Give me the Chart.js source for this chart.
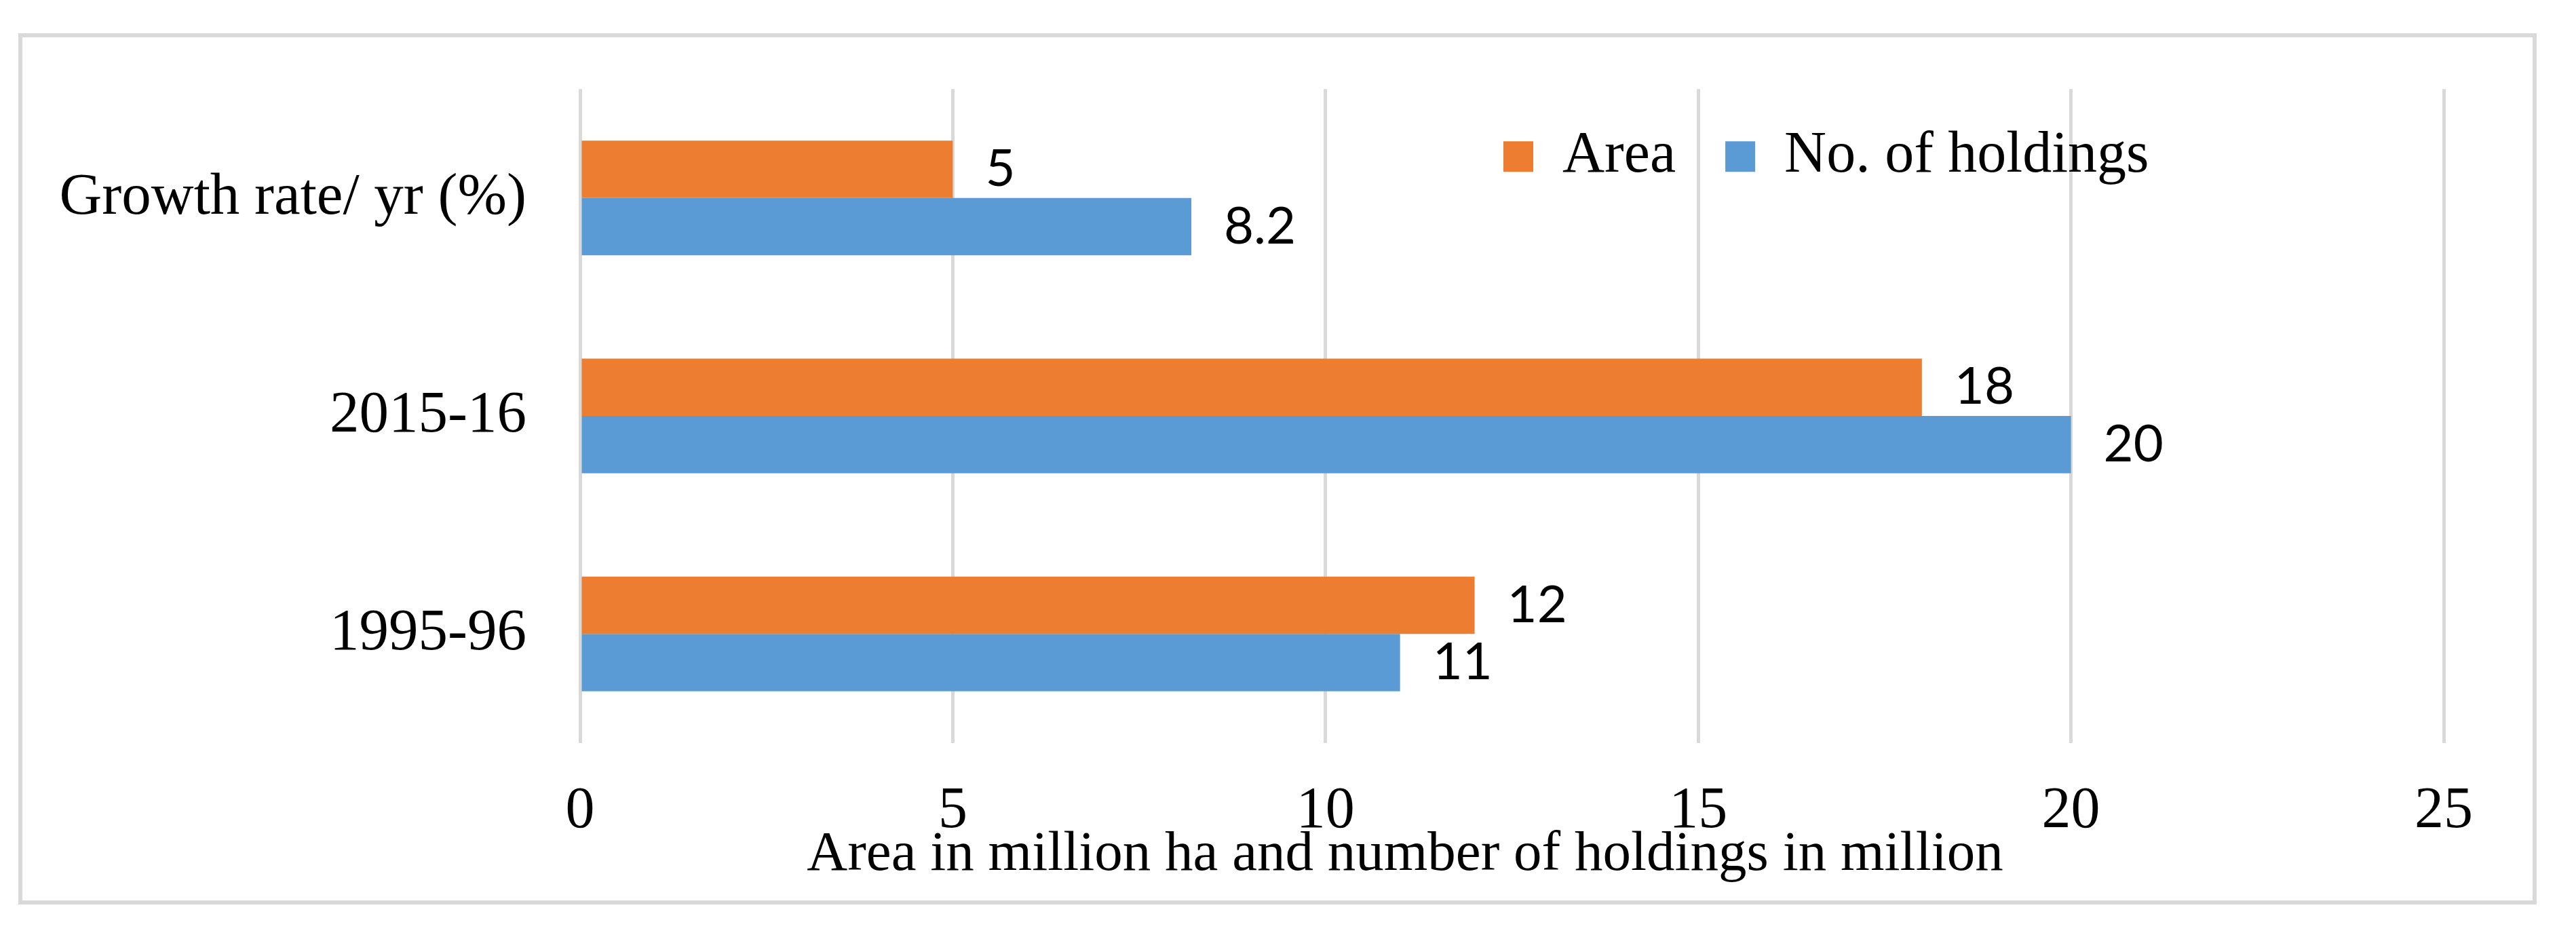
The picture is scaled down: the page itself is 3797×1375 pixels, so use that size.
<!DOCTYPE html>
<html>
<head>
<meta charset="utf-8">
<script src="https://cdn.jsdelivr.net/npm/chart.js@4.4.1/dist/chart.umd.min.js"></script>
<style>
  html, body { margin: 0; padding: 0; background: #ffffff; width: 3797px; height: 1375px; overflow: hidden; }
  #frame { position: absolute; left: 27px; top: 49px; width: 3712px; height: 1284px; box-sizing: border-box; border: 6px solid #d9d9d9; }
  #c { position: absolute; left: 0; top: 0; }
</style>
</head>
<body>
<div id="frame"></div>
<canvas id="c" width="3797" height="1375"></canvas>
<script>
// ---- data ----
const categories = ['Growth rate/ yr (%)', '2015-16', '1995-96'];
const seriesNames = ['Area', 'No. of holdings'];
const areaValues = [5, 18, 12];
const holdingsValues = [8.2, 20, 11];
const axisMin = 0;
const axisMax = 25;
const axisStep = 5;
const axisTitle = 'Area in million ha and number of holdings in million';

// ---- styles ----
const ORANGE = '#ED7D31';
const BLUE = '#5B9BD5';
const GRID = '#d9d9d9';
const SERIF = "'Liberation Serif', 'Times New Roman', serif";

Chart.defaults.color = '#000';
Chart.defaults.font.family = SERIF;

const valueLabels = {
  id: 'valueLabels',
  afterDatasetsDraw(chart) {
    const ctx = chart.ctx;
    ctx.save();
    ctx.font = "76px Lato, 'Open Sans', sans-serif";
    ctx.fillStyle = '#000';
    ctx.textAlign = 'left';
    ctx.textBaseline = 'middle';
    chart.data.datasets.forEach((ds, i) => {
      const meta = chart.getDatasetMeta(i);
      meta.data.forEach((bar, j) => {
        ctx.fillText(String(ds.data[j]), bar.x + 48, bar.y);
      });
    });
    ctx.restore();
  }
};

// place legend inside the plot area and the axis title under the axis (offset left as in the original)
const boxPlace = {
  id: 'boxPlace',
  afterLayout(chart) {
    const ca = chart.chartArea;
    const lg = chart.legend;
    if (lg) {
      const pad = lg.options.labels.padding;
      lg.left = ca.left + 1361 - pad;
      lg.width = 1600;
      lg.right = lg.left + lg.width;
      lg.top = ca.top + 56.5 - pad;
      lg.height = 250;
      lg.bottom = lg.top + lg.height;
    }
    const tb = chart.titleBlock;
    if (tb) {
      const cx = ca.left + 1216;
      tb.left = cx - 1000;
      tb.right = cx + 1000;
      tb.width = 2000;
      const h = tb.height;
      tb.top = ca.bottom + 100.2;
      tb.bottom = tb.top + h;
    }
  }
};

new Chart(document.getElementById('c'), {
  type: 'bar',
  data: {
    labels: categories,
    datasets: [
      { label: seriesNames[0], data: areaValues, backgroundColor: ORANGE, borderWidth: 0,
        categoryPercentage: 0.526, barPercentage: 1.0 },
      { label: seriesNames[1], data: holdingsValues, backgroundColor: BLUE, borderWidth: 0,
        categoryPercentage: 0.526, barPercentage: 1.0 }
    ]
  },
  options: {
    indexAxis: 'y',
    responsive: false,
    animation: false,
    devicePixelRatio: 1,
    layout: { padding: { left: 60, right: 195, top: 109, bottom: 5.4 } },
    scales: {
      y: {
        type: 'category',
        grid: { display: false, drawTicks: false },
        border: { display: false },
        ticks: { font: { family: SERIF, size: 87 }, color: '#000', padding: 79 },
        afterFit: (s) => { s.width = 795; }
      },
      x: {
        type: 'linear',
        min: axisMin,
        max: axisMax,
        grid: { color: GRID, lineWidth: 5, drawTicks: false },
        border: { display: false },
        ticks: { stepSize: axisStep, font: { family: SERIF, size: 86 }, color: '#000', padding: 50 },
        afterFit: (s) => { s.height = 160; }
      }
    },
    plugins: {
      legend: {
        display: true,
        position: 'top',
        align: 'start',
        maxHeight: 0.01,
        labels: {
          font: { family: SERIF, size: 86 },
          color: '#000',
          boxWidth: 44,
          boxHeight: 45,
          padding: 73
        }
      },
      title: {
        display: true,
        position: 'bottom',
        align: 'center',
        text: axisTitle,
        color: '#000',
        font: { family: SERIF, size: 83, weight: 'normal' },
        padding: { top: 15, bottom: 0 }
      },
      tooltip: { enabled: false }
    }
  },
  plugins: [valueLabels, boxPlace]
});
</script>
</body>
</html>
